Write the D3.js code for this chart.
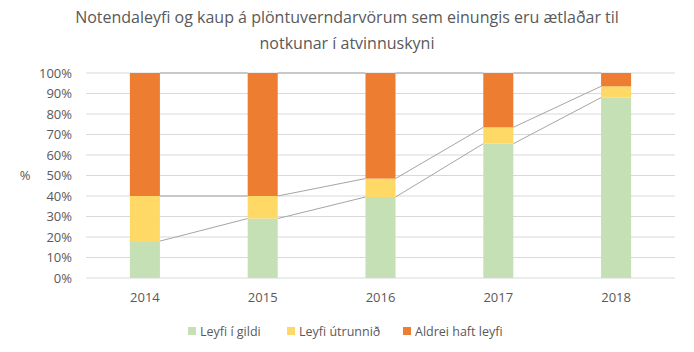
<!DOCTYPE html>
<html>
<head>
<meta charset="utf-8">
<script src="https://cdn.jsdelivr.net/npm/d3@7"></script>
<style>
  body { margin: 0; background: #fff; }
  text { font-family: "Open Sans", "Liberation Sans", sans-serif; fill: #595959; }
</style>
</head>
<body>
<div id="chart"></div>
<script>
let w = 694;
let h = 352;

// data (percent)
let years = ["2014", "2015", "2016", "2017", "2018"];
let seriesNames = ["Leyfi í gildi", "Leyfi útrunnið", "Aldrei haft leyfi"];
let leyfiIGildi = [18, 29, 39.5, 65.5, 88];
let leyfiUtrunnid = [22, 11, 9, 8, 5.5];
let aldreiHaftLeyfi = [60, 60, 51.5, 26.5, 6.5];
let yTicks = [0, 10, 20, 30, 40, 50, 60, 70, 80, 90, 100];
let colors = ["#c5e0b4", "#ffd966", "#ed7d31"];

let plotLeft = 86, plotRight = 675, plotTop = 73, plotBottom = 278;

let svg = d3.select("#chart").append("svg")
  .attr("width", w).attr("height", h);

let xScale = d3.scaleBand().domain(years).range([plotLeft, plotRight]).paddingInner(0.745).paddingOuter(0.3725);
let yScale = d3.scaleLinear().domain([0, 100]).range([plotBottom, plotTop]);

// title
let title = svg.append("text")
  .attr("text-anchor", "middle")
  .attr("font-size", "16px");
title.append("tspan").attr("x", w/2).attr("y", 23)
  .text("Notendaleyfi og kaup á plöntuverndarvörum sem einungis eru ætlaðar til");
title.append("tspan").attr("x", w/2).attr("y", 49)
  .text("notkunar í atvinnuskyni");

// gridlines
svg.append("g").selectAll("line").data(yTicks).join("line")
  .attr("x1", plotLeft).attr("x2", plotRight)
  .attr("y1", d => yScale(d)).attr("y2", d => yScale(d))
  .attr("stroke", "#d9d9d9").attr("stroke-width", 1);

// y axis labels
svg.append("g").selectAll("text").data(yTicks).join("text")
  .attr("x", 72).attr("y", d => yScale(d) + 4.5)
  .attr("text-anchor", "end")
  .attr("font-size", "13px")
  .text(d => d + "%");

svg.append("text").attr("x", 25).attr("y", 180)
  .attr("text-anchor", "middle").attr("font-size", "13px").text("%");

// stack
let table = years.map((y, i) => ({
  year: y,
  s0: leyfiIGildi[i],
  s1: leyfiUtrunnid[i],
  s2: aldreiHaftLeyfi[i]
}));
let stacked = d3.stack().keys(["s0", "s1", "s2"])(table);

// series lines
let bw = xScale.bandwidth();
stacked.forEach(layer => {
  let segs = [];
  for (let i = 0; i < layer.length - 1; i++) {
    segs.push({
      x1: xScale(years[i]) + bw, y1: yScale(layer[i][1]),
      x2: xScale(years[i+1]), y2: yScale(layer[i+1][1])
    });
  }
  svg.append("g").selectAll("line").data(segs).join("line")
    .attr("x1", d => d.x1).attr("y1", d => d.y1)
    .attr("x2", d => d.x2).attr("y2", d => d.y2)
    .attr("stroke", "#a5a5a5").attr("stroke-width", 1);
});

// bars
svg.append("g").selectAll("g").data(stacked).join("g")
  .attr("fill", (d, i) => colors[i])
  .selectAll("rect").data(d => d).join("rect")
    .attr("x", d => xScale(d.data.year))
    .attr("width", bw)
    .attr("y", d => yScale(d[1]))
    .attr("height", d => yScale(d[0]) - yScale(d[1]));

// x labels
svg.append("g").selectAll("text").data(years).join("text")
  .attr("x", d => xScale(d) + bw/2).attr("y", 302)
  .attr("text-anchor", "middle").attr("font-size", "13px")
  .text(d => d);

// legend
let legendX = [188, 287, 403];
let legend = svg.append("g").selectAll("g").data(seriesNames).join("g")
  .attr("transform", (d, i) => "translate(" + legendX[i] + ", 331)");
legend.append("rect").attr("x", 0).attr("y", -4).attr("width", 8).attr("height", 8)
  .attr("fill", (d, i) => colors[i]);
legend.append("text").attr("x", 12).attr("y", 4.5).attr("font-size", "12.5px").text(d => d);
</script>
</body>
</html>
